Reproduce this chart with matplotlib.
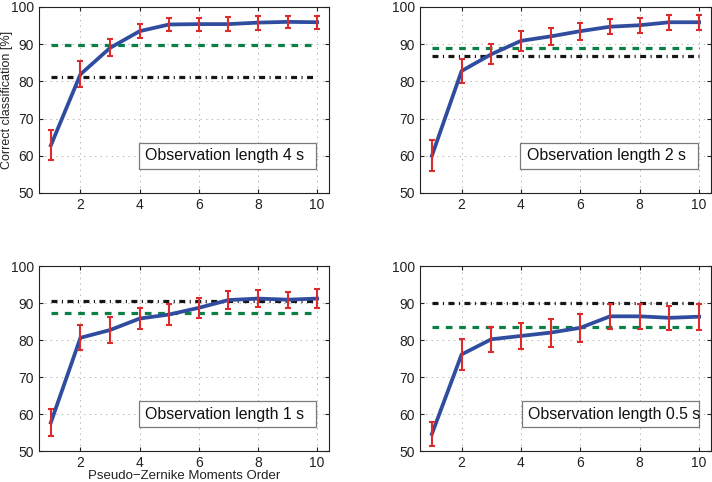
import matplotlib
matplotlib.use("Agg")
import matplotlib.pyplot as plt
from matplotlib.patches import Rectangle

plt.rcParams["font.family"] = ["Liberation Sans", "DejaVu Sans"]
plt.rcParams["lines.scale_dashes"] = False

# Moment order (x axis)
orders = [1, 2, 3, 4, 5, 6, 7, 8, 9, 10]

# Observation length 4 s
mean_4s = [62.8, 81.9, 89.0, 93.5, 95.3, 95.4, 95.4, 95.8, 96.0, 95.9]
err_4s = [4.0, 3.5, 2.3, 1.95, 1.85, 1.75, 1.8, 1.9, 1.7, 1.8]
green_4s = 89.9
black_4s = 81.1

# Observation length 2 s
mean_2s = [60.0, 82.8, 87.3, 90.9, 92.1, 93.5, 94.7, 95.1, 95.9, 95.9]
err_2s = [4.15, 3.3, 2.65, 2.65, 2.2, 2.25, 2.0, 2.05, 2.0, 2.0]
green_2s = 88.9
black_2s = 86.8

# Observation length 1 s
mean_1s = [57.7, 80.6, 82.7, 85.8, 86.9, 88.7, 90.8, 91.2, 90.9, 91.2]
err_1s = [3.55, 3.35, 3.6, 2.9, 2.75, 2.7, 2.5, 2.25, 2.15, 2.55]
green_1s = 87.3
black_1s = 90.5

# Observation length 0.5 s
mean_05s = [54.6, 76.1, 80.2, 81.1, 82.0, 83.3, 86.4, 86.4, 86.0, 86.3]
err_05s = [3.35, 4.1, 3.45, 3.6, 3.8, 3.8, 3.45, 3.45, 3.25, 3.55]
green_05s = 83.6
black_05s = 89.9

labels = ["Observation length 4 s", "Observation length 2 s",
          "Observation length 1 s", "Observation length 0.5 s"]

BLUE = "#2f4c9f"
RED = "#dd2a2a"
GREEN = "#0a8046"
BLACK = "#161616"

fig = plt.figure(figsize=(7.12, 4.82), dpi=100)
positions = [
    [0.0548, 0.5996, 0.4073, 0.3859],
    [0.5899, 0.5996, 0.4087, 0.3859],
    [0.0548, 0.0643, 0.4073, 0.3838],
    [0.5899, 0.0643, 0.4087, 0.3838],
]
panels = [
    (mean_4s, err_4s, green_4s, black_4s),
    (mean_2s, err_2s, green_2s, black_2s),
    (mean_1s, err_1s, green_1s, black_1s),
    (mean_05s, err_05s, green_05s, black_05s),
]

for i, (pos, (mean, err, g, b), label) in enumerate(zip(positions, panels, labels)):
    ax = fig.add_axes(pos)
    ax.plot([orders[0], orders[-1]], [b, b], color=BLACK, lw=2.3,
            dashes=(4.3, 3.2, 0.8, 3.2), zorder=2)
    ax.plot([orders[0], orders[-1]], [g, g], color=GREEN, lw=2.3,
            dashes=(4.8, 4.8), zorder=2)
    ax.plot(orders, mean, color=BLUE, lw=2.7, zorder=3)
    ax.errorbar(orders, mean, yerr=err, fmt="none", ecolor=RED,
                elinewidth=1.5, capsize=2.4, capthick=1.5, zorder=4)

    ax.set_xlim(0.6, 10.4)
    ax.set_ylim(50, 100)
    ax.set_xticks([2, 4, 6, 8, 10])
    ax.set_yticks([50, 60, 70, 80, 90, 100])
    ax.grid(True, linestyle=(0, (1, 3)), color="#b5b5b5", lw=0.7)
    ax.tick_params(direction="in", length=3, width=0.8, labelsize=10,
                   top=True, right=True, colors="#222222")
    for sp in ax.spines.values():
        sp.set_linewidth(0.8)
        sp.set_color("#222222")

    box_x = 0.345 if i != 3 else 0.35
    box_w = 0.61
    ax.add_patch(Rectangle((box_x, 0.13), box_w, 0.14, transform=ax.transAxes,
                           facecolor="white", edgecolor="#7a7a7a", lw=0.9,
                           zorder=5))
    ax.text(box_x + 0.022, 0.2, label, transform=ax.transAxes, fontsize=11.4,
            ha="left", va="center", color="#111111", zorder=6)

    if i == 2:
        ax.set_xlabel("Pseudo\u2212Zernike Moments Order", fontsize=9.5,
                      labelpad=0, color="#222222")

# y label sits in the narrow left margin, as in the reference
fig.text(0.001, 0.5996 + 0.3859 / 2, "Correct classification [%]",
         rotation=90, ha="left", va="center", fontsize=9, color="#222222")

fig.savefig("out.png", dpi=100)
